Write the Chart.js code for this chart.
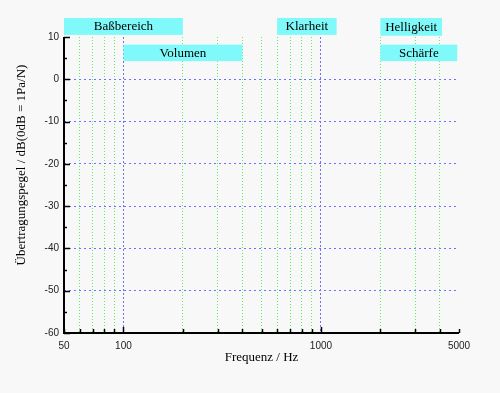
<!DOCTYPE html>
<html>
<head>
<meta charset="utf-8">
<script src="https://cdn.jsdelivr.net/npm/chart.js@4/dist/chart.umd.min.js"></script>
<style>
  html, body { margin: 0; padding: 0; background: #f8f8f8; }
  #wrap { width: 500px; height: 393px; }
</style>
</head>
<body>
<div id="wrap"><canvas id="chart" width="500" height="393"></canvas></div>
<script>
// frequency ticks (log axis) and which of them get a label
const xTicks = [50, 60, 70, 80, 90, 100, 200, 300, 400, 500, 600, 700, 800, 900, 1000, 2000, 3000, 4000, 5000];
const xLabels = [50, 100, 1000, 5000];
const xMajor = [100, 1000];
// level ticks in dB
const yTicks = [10, 5, 0, -5, -10, -15, -20, -25, -30, -35, -40, -45, -50, -55, -60];

// frequency ranges
const boxLabels = ["Baßbereich", "Volumen", "Klarheit", "Helligkeit", "Schärfe"];
const boxFrom = [50, 100, 600, 2000, 2000];
const boxTo = [200, 400, 1200, 4100, 4900];
const boxTop = [14.5, 8.2, 14.5, 14.5, 8.2];
const boxBottom = [10.5, 4.3, 10.5, 10.3, 4.3];

const GREEN = "#5cf05c";
const BLUE = "#7070ff";

const overlay = {
  id: "overlay",
  afterDraw(chart) {
    const { ctx, chartArea: a, scales: { x, y } } = chart;
    ctx.save();

    // cyan range boxes
    boxLabels.forEach((lbl, i) => {
      const x0 = x.getPixelForValue(boxFrom[i]);
      const x1 = x.getPixelForValue(boxTo[i]);
      const y0 = y.getPixelForValue(boxTop[i]);
      const y1 = y.getPixelForValue(boxBottom[i]);
      ctx.fillStyle = "#7ff9f9";
      ctx.fillRect(x0, y0, x1 - x0, y1 - y0);
      ctx.fillStyle = "#000";
      ctx.font = '13px "Liberation Serif"';
      ctx.textAlign = "center";
      ctx.textBaseline = "middle";
      ctx.fillText(lbl, (x0 + x1) / 2, (y0 + y1) / 2 + 0.5);
    });

    // axis lines
    ctx.strokeStyle = "#000";
    ctx.lineWidth = 2;
    ctx.beginPath();
    ctx.moveTo(a.left, a.top);
    ctx.lineTo(a.left, a.bottom);
    ctx.lineTo(a.right, a.bottom);
    ctx.stroke();

    // inward ticks
    ctx.lineWidth = 1.5;
    ctx.beginPath();
    yTicks.forEach((v) => {
      const py = Math.round(y.getPixelForValue(v)) + 0.5;
      const len = v % 10 === 0 ? 6 : 3;
      ctx.moveTo(a.left, py);
      ctx.lineTo(a.left + len, py);
    });
    xTicks.forEach((v) => {
      const px = Math.round(x.getPixelForValue(v)) + 0.5;
      const len = xMajor.includes(v) ? 6 : 4;
      ctx.moveTo(px, a.bottom);
      ctx.lineTo(px, a.bottom - len);
    });
    ctx.stroke();

    // y axis title
    ctx.translate(22, 165);
    ctx.rotate(-Math.PI / 2);
    ctx.fillStyle = "#000";
    ctx.font = '13px "Liberation Serif"';
    ctx.textAlign = "center";
    ctx.textBaseline = "middle";
    ctx.fillText("Übertragungspegel / dB(0dB = 1Pa/N)", 0, 0);
    ctx.restore();
  }
};

new Chart(document.getElementById("chart"), {
  type: "line",
  data: { datasets: [] },
  plugins: [overlay],
  options: {
    responsive: false,
    animation: false,
    events: [],
    layout: { padding: { top: 37, right: 41, left: 0, bottom: 0 } },
    plugins: { legend: { display: false }, tooltip: { enabled: false } },
    scales: {
      x: {
        type: "logarithmic",
        min: 50,
        max: 5000,
        afterBuildTicks: (s) => { s.ticks = xTicks.map((v) => ({ value: v })); },
        afterFit: (s) => { s.height = 60; },
        border: { display: false, dash: (c) => (xMajor.includes(c.tick && c.tick.value) ? [2, 2] : [1, 2]) },
        grid: {
          drawTicks: false,
          color: (c) => {
            const v = c.tick && c.tick.value;
            if (v === 50 || v === 5000) return "rgba(0,0,0,0)";
            return xMajor.includes(v) ? BLUE : GREEN;
          }
        },
        ticks: {
          autoSkip: false,
          maxRotation: 0,
          padding: 7,
          color: "#222",
          font: { family: "Liberation Sans", size: 10 },
          callback: (v) => (xLabels.includes(v) ? String(v) : "")
        },
        title: {
          display: true,
          text: "Frequenz / Hz",
          color: "#000",
          font: { family: "Liberation Serif", size: 13 },
          padding: { top: 0, bottom: 28 }
        }
      },
      y: {
        min: -60,
        max: 10,
        afterBuildTicks: (s) => { s.ticks = yTicks.map((v) => ({ value: v })); },
        afterFit: (s) => { s.width = 64; },
        border: { display: false, dash: [2, 3] },
        grid: {
          drawTicks: false,
          color: (c) => {
            const v = c.tick && c.tick.value;
            if (v === 10 || v === -60 || v % 10 !== 0) return "rgba(0,0,0,0)";
            return BLUE;
          }
        },
        ticks: {
          padding: 5,
          color: "#222",
          font: { family: "Liberation Sans", size: 10 },
          callback: (v) => (v % 10 === 0 ? String(v) : "")
        }
      }
    }
  }
});
</script>
</body>
</html>
